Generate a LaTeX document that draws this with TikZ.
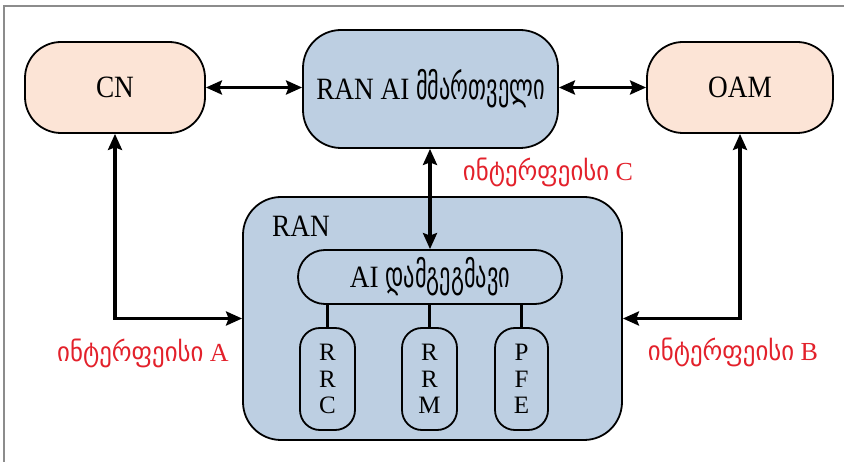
\documentclass[tikz,border=0pt]{standalone}
\usepackage{fontspec}
\setmainfont{Liberation Serif}
\newfontfamily\boxfont[FakeStretch=0.88]{Liberation Serif}
\newfontfamily\geobox[FakeStretch=0.62]{DejaVu Sans}
\newfontfamily\geolab[FakeStretch=0.92]{DejaVu Sans}
\usetikzlibrary{arrows.meta}
\definecolor{peach}{HTML}{FCE4D6}
\definecolor{steel}{HTML}{BDCFE2}
\definecolor{ifred}{HTML}{E3212B}
\definecolor{framegray}{HTML}{8C8C8C}
\newcommand{\geotext}[1]{{\fontsize{36}{30}\geobox #1}}
\newcommand{\geored}[1]{{\fontsize{27}{26}\geolab #1}}
\tikzset{
  blk/.style={draw=black, line width=1.8pt, align=center, inner sep=0pt},
  bigtext/.style={font=\fontsize{31}{30}\boxfont},
  outer/.style={blk, bigtext, fill=peach, rounded corners=36pt},
  mgr/.style={blk, bigtext, fill=steel, rounded corners=38pt},
  sub/.style={blk, fill=steel, rounded corners=20pt, font=\fontsize{25}{26.5}\selectfont},
  tip/.tip={Stealth[length=16pt,width=14pt,inset=2.5pt]},
  conn/.style={line width=3.2pt, tip-tip},
  link/.style={line width=2.2pt},
  iflabel/.style={text=ifred, font=\fontsize{26}{26}\selectfont, inner sep=0pt}
}
\begin{document}
\begin{tikzpicture}[x=1pt, y=-1pt]
  \useasboundingbox (0,0) rectangle (844,462);
  \fill[white] (0,0) rectangle (844,462);
  % page frame (top and left edges)
  \draw[framegray, line width=1.5pt] (4,462) -- (4,6) -- (844,6);

  % top row
  \node[outer, minimum width=180pt, minimum height=91pt] (cn) at (115,87.5) {CN};
  \node[mgr, minimum width=255pt, minimum height=118pt] (mgr) at (430.5,89) {RAN AI \geotext{მმართველი}};
  \node[outer, minimum width=186pt, minimum height=91pt] (oam) at (740,87.5) {OAM};

  % RAN block
  \node[blk, fill=steel, rounded corners=38pt, minimum width=379pt, minimum height=243pt] (ran) at (432.5,318.5) {};
  \node[anchor=west, inner sep=0pt, bigtext] (ranlbl) at (272,226) {RAN};
  \node[blk, bigtext, fill=steel, rounded corners=27pt, minimum width=264pt, minimum height=54pt] (sched) at (430,277) {AI \geotext{დამგეგმავი}};
  \node[sub, minimum width=55pt, minimum height=102pt] (rrc) at (327.5,379) {R\\R\\C};
  \node[sub, minimum width=55pt, minimum height=102pt] (rrm) at (429.5,379) {R\\R\\M};
  \node[sub, minimum width=53pt, minimum height=102pt] (pfe) at (521.5,379) {P\\F\\E};

  \draw[link] (sched.south -| rrc) -- (rrc.north);
  \draw[link] (sched.south -| rrm) -- (rrm.north);
  \draw[link] (sched.south -| pfe) -- (pfe.north);

  % interfaces
  \draw[conn] (cn.east) -- (cn.east -| mgr.west);
  \draw[conn] (oam.west -| mgr.east) -- (oam.west);
  \draw[conn] (mgr.south -| sched.north) -- (sched.north);
  \draw[conn] (cn.south) |- (ran.west);
  \draw[conn] (oam.south) |- (ran.east);

  \node[iflabel] (ifa) at (143,353) {\geored{ინტერფეისი} A};
  \node[iflabel] (ifb) at (733,352) {\geored{ინტერფეისი} B};
  \node[iflabel] (ifc) at (548,172) {\geored{ინტერფეისი} C};
\end{tikzpicture}
\end{document}
